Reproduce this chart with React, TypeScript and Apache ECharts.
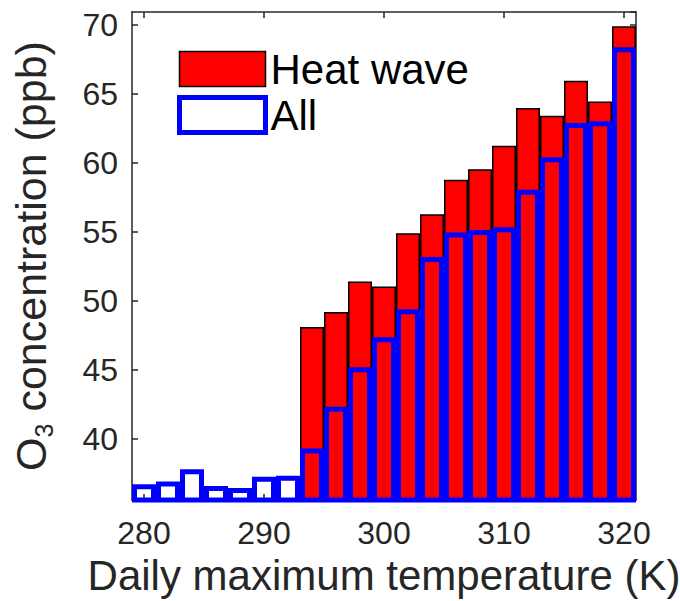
import React, { useEffect, useRef } from 'react';
import * as echarts from 'echarts';

// Bin centres of daily maximum temperature (K)
const binCenters = [280, 282, 284, 286, 288, 290, 292, 294, 296, 298, 300, 302, 304, 306, 308, 310, 312, 314, 316, 318, 320];
// Mean O3 (ppb) on heat-wave days (no heat-wave days below 293 K)
const heatWave = [null, null, null, null, null, null, null, 48.1, 49.2, 51.4, 51.04, 54.9, 56.28, 58.77, 59.54, 61.23, 63.96, 63.4, 65.94, 64.44, 69.88];
// Mean O3 (ppb) on all days
const allDays = [36.72, 36.92, 37.81, 36.6, 36.44, 37.26, 37.33, 39.31, 42.34, 45.2, 47.37, 49.4, 53.17, 54.95, 55.14, 55.34, 58.04, 60.41, 62.88, 63.0, 68.36];
const xTickLabels = ['280', '290', '300', '310', '320'];
const yMin = 35.58;
const yMax = 70.92;

export default function App() {
  const ref = useRef<HTMLDivElement>(null);
  useEffect(() => {
    document.body.style.margin = '0';
    const chart = echarts.init(ref.current!, null, { renderer: 'svg' });
    const axisColor = '#262626';
    const font = '"Liberation Sans", Arial, Helvetica, sans-serif';
    const cats = binCenters.map(String);
    const showTick = (_i: number, v: string) => xTickLabels.includes(v);
    chart.setOption({
      animation: false,
      grid: { left: 132, right: 44, top: 12, bottom: 101, containLabel: false, outerBoundsMode: 'none' },
      legend: {
        orient: 'vertical',
        left: 172,
        top: 43,
        itemWidth: 86,
        itemHeight: 35,
        itemGap: 4,
        selectedMode: false,
        textStyle: { fontSize: 42, color: '#000', fontFamily: font, lineHeight: 42 },
        data: [
          { name: 'Heat wave', icon: 'rect', itemStyle: { color: '#ff0000', borderColor: '#000000', borderWidth: 1.5 } },
          { name: 'All', icon: 'rect', itemStyle: { color: 'rgba(0,0,0,0)', borderColor: '#0000ff', borderWidth: 5 } },
        ],
      },
      xAxis: [
        {
          type: 'category',
          data: cats,
          position: 'bottom',
          boundaryGap: true,
          axisLine: { show: true, lineStyle: { color: axisColor, width: 1.5 } },
          axisTick: { show: true, inside: true, length: 6, alignWithLabel: true, interval: showTick, lineStyle: { color: axisColor, width: 1.5 } },
          axisLabel: { show: true, interval: showTick, fontSize: 32, color: axisColor, fontFamily: font, margin: 17 },
          splitLine: { show: false },
          name: 'Daily maximum temperature (K)',
          nameLocation: 'middle',
          nameGap: 54,
          nameTextStyle: { fontSize: 42, color: axisColor, fontFamily: font },
        },
        {
          type: 'category',
          data: cats,
          position: 'top',
          boundaryGap: true,
          axisLine: { show: true, lineStyle: { color: axisColor, width: 1.5 } },
          axisTick: { show: true, inside: true, length: 6, alignWithLabel: true, interval: showTick, lineStyle: { color: axisColor, width: 1.5 } },
          axisLabel: { show: false },
          splitLine: { show: false },
        },
      ],
      yAxis: [
        {
          type: 'value',
          position: 'left',
          min: yMin,
          max: yMax,
          splitNumber: 7,
          minInterval: 5,
          maxInterval: 5,
          axisLine: { show: true, lineStyle: { color: axisColor, width: 1.5 } },
          axisTick: { show: true, inside: true, length: 6, lineStyle: { color: axisColor, width: 1.5 } },
          axisLabel: { show: true, showMinLabel: false, showMaxLabel: false, fontSize: 32, color: axisColor, fontFamily: font, margin: 14 },
          splitLine: { show: false },
          name: '{a|O}{b|3}{a| concentration (ppb)}',
          nameLocation: 'middle',
          nameRotate: 90,
          nameGap: 76,
          nameTextStyle: {
            fontSize: 43,
            color: axisColor,
            fontFamily: font,
            rich: {
              a: { fontSize: 43, lineHeight: 50, color: axisColor, fontFamily: font },
              b: { fontSize: 25, lineHeight: 1, verticalAlign: 'bottom', color: axisColor, fontFamily: font },
            },
          },
        },
        {
          type: 'value',
          position: 'right',
          min: yMin,
          max: yMax,
          splitNumber: 7,
          minInterval: 5,
          maxInterval: 5,
          axisLine: { show: true, lineStyle: { color: axisColor, width: 1.5 } },
          axisTick: { show: true, inside: true, length: 6, lineStyle: { color: axisColor, width: 1.5 } },
          axisLabel: { show: false },
          splitLine: { show: false },
        },
      ],
      series: [
        {
          name: 'Heat wave',
          type: 'bar',
          xAxisIndex: 0,
          yAxisIndex: 0,
          data: heatWave,
          barWidth: '100%',
          barGap: '-100%',
          clip: true,
          itemStyle: { color: '#ff0000', borderColor: '#000000', borderWidth: 1.5 },
        },
        {
          name: 'All',
          type: 'bar',
          xAxisIndex: 0,
          yAxisIndex: 0,
          data: allDays,
          barWidth: '100%',
          barGap: '-100%',
          clip: true,
          itemStyle: { color: 'rgba(0,0,0,0)', borderColor: '#0000ff', borderWidth: 5 },
        },
      ],
    });
    return () => chart.dispose();
  }, []);
  return <div ref={ref} style={{ width: 680, height: 601 }} />;
}
